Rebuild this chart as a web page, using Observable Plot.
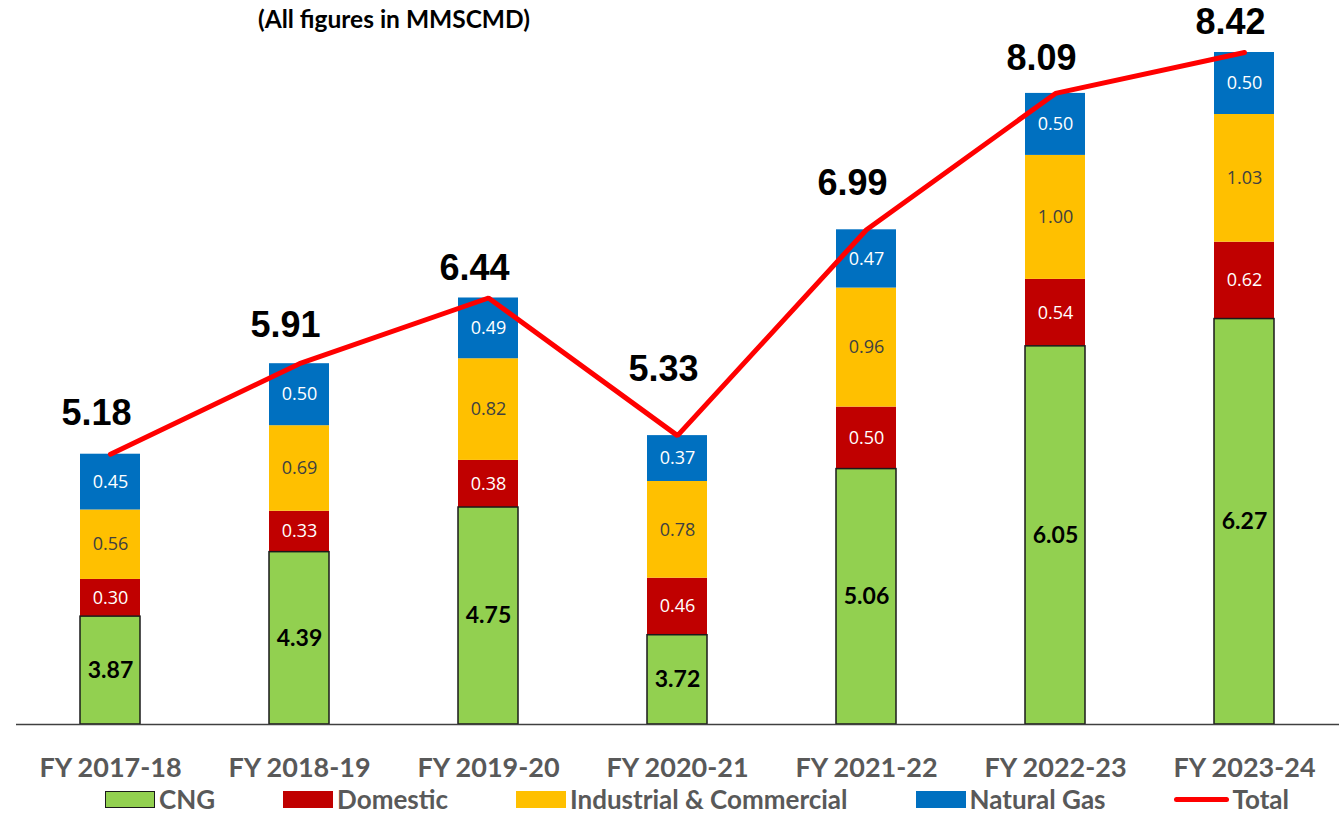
<!DOCTYPE html>
<html>
<head>
<meta charset="utf-8">
<script src="https://cdn.jsdelivr.net/npm/d3@7"></script>
<script src="https://cdn.jsdelivr.net/npm/@observablehq/plot@0.6"></script>
<style>
  html, body { margin: 0; padding: 0; background: #fff; }
  #wrap { position: relative; width: 1344px; height: 815px; }
  #chart { position: absolute; left: 0; top: 0; }
  #title { position: absolute; left: 258px; top: 4px; font: bold 24.5px Lato, sans-serif; color: #000; line-height: 30px; }
  #legend { position: absolute; left: 0; top: 786px; width: 1344px; height: 26px; display: flex; align-items: center;
            padding-left: 105px; gap: 68px; box-sizing: border-box;
            font: bold 26px Lato, sans-serif; line-height: 26px; color: #595959; }
  .item { display: flex; align-items: center; gap: 4px; }
  .sw { width: 50px; height: 17px; box-sizing: border-box; }
  .ln { width: 55px; height: 5px; border-radius: 3px; }
</style>
</head>
<body>
<div id="wrap">
  <div id="chart"></div>
  <div id="title">(All figures in MMSCMD)</div>
  <div id="legend"></div>
</div>
<script>
const years = ["FY 2017-18", "FY 2018-19", "FY 2019-20", "FY 2020-21", "FY 2021-22", "FY 2022-23", "FY 2023-24"];
const cng        = [3.87, 4.39, 4.75, 3.72, 5.06, 6.05, 6.27];
const domestic   = [0.30, 0.33, 0.38, 0.46, 0.50, 0.54, 0.62];
const industrial = [0.56, 0.69, 0.82, 0.78, 0.96, 1.00, 1.03];
const naturalGas = [0.45, 0.50, 0.49, 0.37, 0.47, 0.50, 0.50];
const total      = [5.18, 5.91, 6.44, 5.33, 6.99, 8.09, 8.42];
const seriesNames  = ["CNG", "Domestic", "Industrial & Commercial", "Natural Gas"];
const seriesColors = ["#92D050", "#C00000", "#FFC000", "#0070C0"];
const labelColors  = ["#000000", "#FFFFFF", "#404040", "#FFFFFF"];
const axisMin = 3;

const seriesValues = [cng, domestic, industrial, naturalGas];
const rows = [];
years.forEach((year, i) => {
  let base = 0;
  seriesValues.forEach((vals, s) => {
    const v = vals[i];
    rows.push({year, series: seriesNames[s], value: v, y1: s === 0 ? axisMin : base, y2: base + v, idx: s});
    base += v;
  });
});

// place each total label just above the red line under its horizontal extent
const spanLeft = 0.26, spanRight = 0.12; // fraction of a category step covered by the label
const totals = years.map((year, i) => {
  let lift = total[i];
  if (i > 0) lift = Math.max(lift, total[i] + spanLeft * (total[i - 1] - total[i]));
  if (i < total.length - 1) lift = Math.max(lift, total[i] + spanRight * (total[i + 1] - total[i]));
  return {year, total: total[i], lift};
});

const chart = Plot.plot({
  width: 1344,
  height: 815,
  marginLeft: 16,
  marginRight: 5,
  marginTop: 52,
  marginBottom: 91,
  x: {domain: years, paddingInner: 0.68, paddingOuter: 0.34, label: null},
  y: {domain: [axisMin, 8.42], axis: null},
  color: {domain: seriesNames, range: seriesColors},
  marks: [
    Plot.barY(rows.filter(d => d.idx > 0), {x: "year", y1: "y1", y2: "y2", fill: "series"}),
    Plot.barY(rows.filter(d => d.idx === 0), {x: "year", y1: "y1", y2: "y2", fill: "series", stroke: "#1a1a1a", strokeWidth: 1.5}),
    Plot.ruleY([axisMin], {stroke: "#404040", strokeWidth: 1.5}),
    Plot.text(rows.filter(d => d.idx > 0), {
      x: "year", y: d => (d.y1 + d.y2) / 2, text: d => d.value.toFixed(2),
      fill: d => labelColors[d.idx], fontSize: 18, fontFamily: "Open Sans", lineAnchor: "middle"
    }),
    Plot.text(rows.filter(d => d.idx === 0), {
      x: "year", y: d => (d.y1 + d.y2) / 2, text: d => d.value.toFixed(2),
      fill: "#000", fontSize: 23, fontWeight: "bold", fontFamily: "Lato", lineAnchor: "middle"
    }),
    Plot.line(totals, {x: "year", y: "total", stroke: "#FF0000", strokeWidth: 5, strokeLinecap: "round", strokeLinejoin: "miter"}),
    Plot.text(totals, {
      x: "year", y: "lift", text: d => d.total.toFixed(2), dy: -30, dx: -14,
      fill: "#000", fontSize: 36, fontWeight: "bold", fontFamily: "Liberation Sans", lineAnchor: "middle"
    }),
    Plot.axisX({tickSize: 0, tickPadding: 33, fontSize: 27, fontWeight: "bold", fontFamily: "Lato", color: "#595959", label: null})
  ]
});
document.getElementById("chart").appendChild(chart);

const legend = document.getElementById("legend");
seriesNames.forEach((name, i) => {
  const it = document.createElement("div");
  it.className = "item";
  const sw = document.createElement("div");
  sw.className = "sw";
  sw.style.background = seriesColors[i];
  if (i === 0) sw.style.border = "1.5px solid #1a1a1a";
  it.appendChild(sw);
  const t = document.createElement("span");
  t.textContent = name;
  it.appendChild(t);
  legend.appendChild(it);
});
const it = document.createElement("div");
it.className = "item";
const ln = document.createElement("div");
ln.className = "ln";
ln.style.background = "#FF0000";
it.appendChild(ln);
const t = document.createElement("span");
t.textContent = "Total";
it.appendChild(t);
legend.appendChild(it);
</script>
</body>
</html>
